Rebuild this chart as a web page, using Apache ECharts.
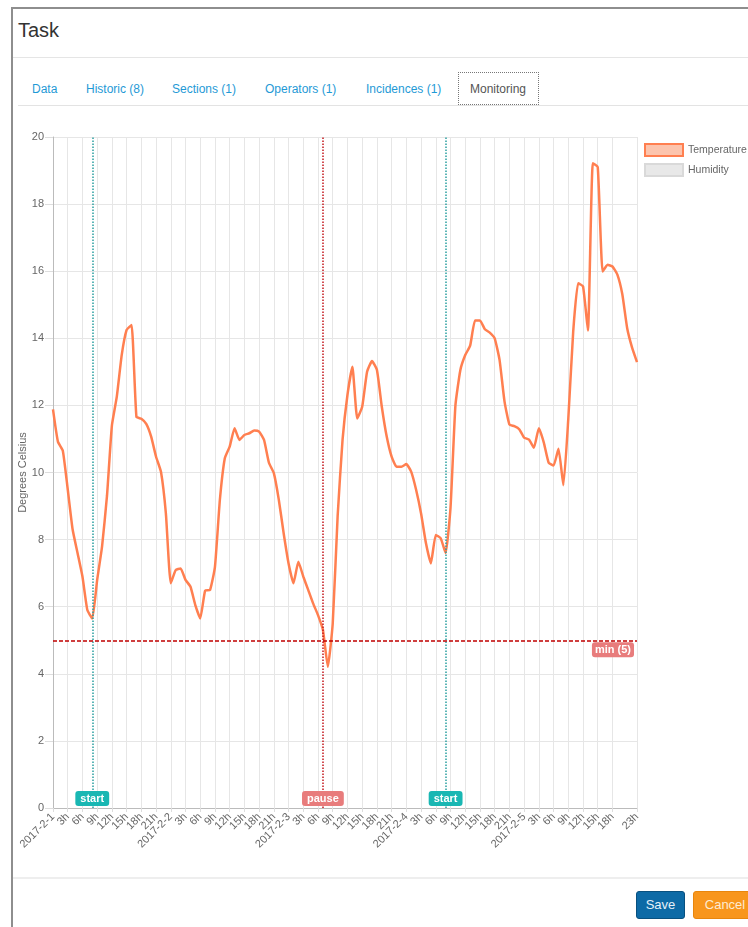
<!DOCTYPE html>
<html>
<head>
<meta charset="utf-8">
<script src="https://cdn.jsdelivr.net/npm/echarts@6/dist/echarts.min.js"></script>
<style>
  html,body{margin:0;padding:0;background:#fff;}
  body{width:748px;height:927px;overflow:hidden;position:relative;font-family:"Liberation Sans",Arial,sans-serif;}
  .frame{position:absolute;left:11px;top:7px;width:800px;height:1000px;border-left:2px solid #8e8e8e;border-top:2px solid #8e8e8e;box-sizing:border-box;}
  .title{position:absolute;left:18px;top:19px;font-size:20px;color:#333;}
  .hline{position:absolute;height:1px;background:#e5e5e5;}
  .tab{position:absolute;top:82px;font-size:12px;color:#1f9ad6;white-space:nowrap;}
  .tab.active{color:#555;}
  .tabbox{position:absolute;left:458px;top:72px;width:81px;height:33px;box-sizing:border-box;border:1px dotted #777;background:#fff;}
  .btn{position:absolute;top:891px;height:28px;box-sizing:border-box;border-radius:3px;font-size:13px;line-height:26px;text-align:center;}
  .save{left:636px;width:49px;background:#0d6aa6;border:1px solid #08507f;color:#e6f0f8;}
  .cancel{left:693px;width:64px;background:#f8961d;border:1px solid #e8860d;color:#fdebd3;}
  #chart{position:absolute;left:12px;top:115px;width:736px;height:760px;}
</style>
</head>
<body>
<div class="frame"></div>
<div class="title">Task</div>
<div class="hline" style="left:13px;top:57px;width:735px;"></div>
<div class="tabbox"></div>
<div class="tab" style="left:32px;">Data</div>
<div class="tab" style="left:86px;">Historic (8)</div>
<div class="tab" style="left:172px;">Sections (1)</div>
<div class="tab" style="left:265px;">Operators (1)</div>
<div class="tab" style="left:366px;">Incidences (1)</div>
<div class="tab active" style="left:470px;">Monitoring</div>
<div class="hline" style="left:18px;top:105px;width:730px;background:#e3e3e3;"></div>
<div id="chart"></div>
<div class="hline" style="left:13px;top:877px;width:735px;height:2px;background:#eeeeee;"></div>
<div class="btn save">Save</div>
<div class="btn cancel">Cancel</div>
<script>
// ---- data ----
const days = ['2017-2-1', '2017-2-2', '2017-2-3', '2017-2-4', '2017-2-5'];
const hourLabels = ['', '1h', '2h', '3h', '4h', '5h', '6h', '7h', '8h', '9h', '10h', '11h',
  '12h', '13h', '14h', '15h', '16h', '17h', '18h', '19h', '20h', '21h', '22h', '23h'];
const temperature = [
  11.88, 10.92, 10.65, 9.5, 8.3, 7.6, 6.9, 5.9, 5.65, 6.8, 7.8, 9.3,
  11.4, 12.26, 13.5, 14.25, 14.4, 11.66, 11.6, 11.45, 11.07, 10.47, 10.02, 8.78,
  6.7, 7.09, 7.14, 6.8, 6.6, 6.05, 5.65, 6.48, 6.5, 7.19, 9.18, 10.42,
  10.77, 11.32, 10.97, 11.12, 11.17, 11.25, 11.22, 10.97, 10.29, 9.98, 9.2, 8.19,
  7.29, 6.7, 7.34, 6.9, 6.5, 6.1, 5.75, 5.31, 4.21, 5.5, 8.7, 10.97,
  12.31, 13.15, 11.61, 11.96, 13.0, 13.32, 13.06, 11.96, 11.07, 10.47, 10.17, 10.17,
  10.25, 10.02, 9.48, 8.78, 7.89, 7.29, 8.14, 8.04, 7.6, 8.95, 12.0, 13.05,
  13.5, 13.78, 14.53, 14.53, 14.27, 14.17, 14.0, 13.35, 12.12, 11.43, 11.38, 11.29,
  11.04, 10.98, 10.74, 11.32, 10.9, 10.29, 10.21, 10.71, 9.62, 11.6, 14.2, 15.64,
  15.55, 14.23, 19.22, 19.1, 15.99, 16.19, 16.14, 15.9, 15.32, 14.3, 13.72, 13.29
];
const humidity = [];
const eventHours = [8, 55, 80];
const eventLabels = ['start', 'pause', 'start'];
const minValue = 5;
const minLabel = 'min (5)';
const yTicks = { min: 0, max: 20, step: 2 };

// ---- build ----
const categories = [];
days.forEach(d => hourLabels.forEach((h, i) => categories.push(i === 0 ? d : h)));
const lastIdx = categories.length - 1;
const showTick = (i) => (i % 3 === 0 && i !== lastIdx - 2) || i === lastIdx;

const eventStyle = {
  start: { line: '#2a9fa0', box: '#19b7b3' },
  pause: { line: '#c4161c', box: '#e87c7c' }
};

const markData = eventHours.map((h, k) => {
  const st = eventStyle[eventLabels[k]];
  return {
    xAxis: h,
    lineStyle: { color: st.line, type: 'dotted', width: 1.5 },
    label: {
      show: true, position: 'start', distance: -17,
      formatter: eventLabels[k],
      backgroundColor: st.box, color: '#fff', fontWeight: 'bold', fontSize: 11,
      padding: [2, 5, 2, 5], borderRadius: 3
    }
  };
});
markData.push({
  yAxis: minValue,
  lineStyle: { color: '#c00000', type: [4, 2], width: 1.5 },
  label: {
    show: true, position: 'insideEndBottom', distance: [3, 2],
    formatter: minLabel,
    backgroundColor: '#e87c7c', color: '#fff', fontWeight: 'bold', fontSize: 11,
    padding: [2, 3, 2, 3], borderRadius: 3
  }
});

const chart = echarts.init(document.getElementById('chart'), null, { renderer: 'canvas' });
chart.setOption({
  animation: false,
  textStyle: { fontFamily: '"Liberation Sans", Arial, sans-serif' },
  grid: { left: 41, top: 22, width: 584, height: 671, containLabel: false, outerBoundsMode: 'none' },
  legend: {
    orient: 'vertical', left: 632, top: 28, padding: 0,
    itemWidth: 38, itemHeight: 12, itemGap: 6, icon: 'rect',
    textStyle: { fontSize: 10.5, color: '#666' },
    data: [
      { name: 'Temperature', itemStyle: { color: '#fcc4ad', borderColor: '#ff7f50', borderWidth: 2 } },
      { name: 'Humidity', itemStyle: { color: '#e8e8e8', borderColor: '#d9d9d9', borderWidth: 2 } }
    ]
  },
  xAxis: {
    type: 'category', data: categories, boundaryGap: false,
    axisLine: { lineStyle: { color: '#bbb' } },
    axisTick: { show: true, interval: showTick, length: 4, lineStyle: { color: '#ddd' } },
    axisLabel: {
      interval: 0, rotate: 45, fontSize: 11, color: '#666', margin: 7, hideOverlap: false,
      formatter: (value, index) => (showTick(index) ? value : '')
    },
    splitLine: { show: true, interval: showTick, lineStyle: { color: '#e6e6e6' } }
  },
  yAxis: {
    type: 'value', min: yTicks.min, max: yTicks.max, interval: yTicks.step,
    name: 'Degrees Celsius', nameLocation: 'middle', nameGap: 25, nameMoveOverlap: false,
    nameTextStyle: { fontSize: 11, color: '#666' },
    axisLine: { show: true, lineStyle: { color: '#bbb' } },
    axisTick: { show: true, length: 8, lineStyle: { color: '#ddd' } },
    axisLabel: { fontSize: 11, color: '#666', margin: 9 },
    splitLine: { show: true, lineStyle: { color: '#e6e6e6' } }
  },
  series: [
    {
      name: 'Temperature', type: 'line', data: temperature,
      showSymbol: false, smooth: 0.15,
      lineStyle: { color: '#ff7f50', width: 2.5 },
      itemStyle: { color: '#ff7f50' },
      markLine: { silent: true, symbol: ['none', 'none'], animation: false, data: markData }
    },
    {
      name: 'Humidity', type: 'line', data: humidity,
      showSymbol: false,
      lineStyle: { color: '#d9d9d9', width: 2 },
      itemStyle: { color: '#e8e8e8' }
    }
  ]
});
</script>
</body>
</html>
